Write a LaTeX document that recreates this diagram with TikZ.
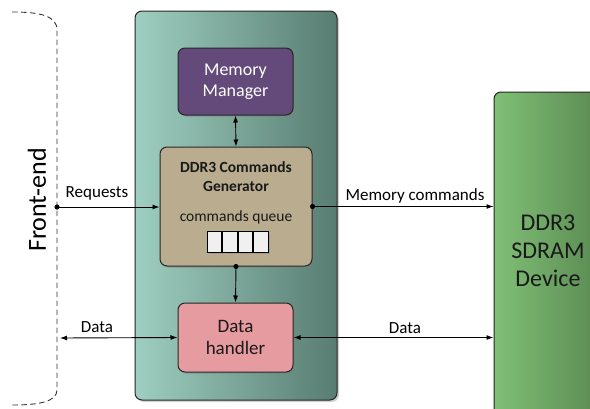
\documentclass[tikz,border=0pt]{standalone}
\usepackage{fontspec}
\setmainfont{Carlito}
\usetikzlibrary{shadows,arrows.meta,positioning}
\definecolor{tealL}{RGB}{158,207,192}
\definecolor{tealR}{RGB}{88,124,113}
\definecolor{mmfill}{RGB}{99,74,122}
\definecolor{genfill}{RGB}{186,173,143}
\definecolor{dhfill}{RGB}{230,155,160}
\definecolor{devL}{RGB}{128,192,118}
\definecolor{devR}{RGB}{88,135,80}
\definecolor{cellfill}{RGB}{240,240,240}
\begin{document}
\begin{tikzpicture}[x=1pt,y=-1pt,
  shad/.style={drop shadow={shadow xshift=2pt,shadow yshift=-2pt,opacity=0.35}},
  blk/.style={draw=black!85,line width=1pt,rounded corners=7pt,shad,inner sep=0pt,align=center},
  conn/.style={line width=0.9pt,-{Latex[length=7pt,width=5pt]}},
  dconn/.style={line width=0.9pt,{Latex[length=7pt,width=5pt]}-{Latex[length=7pt,width=5pt]}},
  lbl/.style={font=\fontsize{17}{20}\selectfont,inner sep=0pt},
  cell/.style={draw=black,line width=1pt,fill=cellfill,minimum width=14.5pt,minimum height=21pt,inner sep=0pt,shad}
]
\useasboundingbox (0,0) rectangle (590,408);
% front-end bracket
\draw[dash pattern=on 5.5pt off 3.5pt,line width=0.9pt,black!80] (12,12) .. controls (38,12) and (57,15) .. (57,30) -- (57,390) .. controls (57,402) and (38,405) .. (12,405);
\node[rotate=90,font=\fontsize{26}{30}\selectfont,inner sep=0pt] (fe) at (37,200) {Front-end};
\coordinate (fereq) at (57,207);
\coordinate (fedata) at (60,338);
% big controller box
\node[blk,left color=tealL,right color=tealR,minimum width=202pt,minimum height=389pt] (ctrl) at (236,205.5) {};
% device
\node[blk,left color=devL,right color=devR,minimum width=112pt,minimum height=326pt] (dev) at (550,255) {};
\node[font=\fontsize{24}{28}\selectfont,align=center,text=black!90,inner sep=0pt] (devtext) at (548,251) {DDR3\\SDRAM\\Device};
% memory manager
\node[blk,fill=mmfill,text=white,minimum width=115pt,minimum height=67pt,font=\fontsize{18}{21}\selectfont] (mm) at (235.5,81.5) {Memory\\Manager};
% generator
\node[blk,fill=genfill,minimum width=152pt,minimum height=119pt] (gen) at (236,206.5) {};
\node[font=\bfseries\fontsize{15.5}{19}\selectfont,align=center,inner sep=0pt,text=black!90] (gentitle) at (236,176.5) {DDR3 Commands\\Generator};
\node[font=\fontsize{15.5}{18}\selectfont,inner sep=0pt,text=black!90] (queue) at (236,217) {commands queue};
\node[cell] (c1) at (214.25,241.5) {};
\node[cell,anchor=west] (c2) at (c1.east) {};
\node[cell,anchor=west] (c3) at (c2.east) {};
\node[cell,anchor=west] (c4) at (c3.east) {};
% data handler
\node[blk,fill=dhfill,minimum width=115pt,minimum height=69pt,font=\fontsize{19}{22}\selectfont,text=black!90] (dh) at (235.5,337.5) {Data\\handler};
% connectors
\draw[dconn] (mm.south) -- (gen.north);
\fill (fereq) circle (2.6pt);
\draw[conn] (fereq) -- (fereq -| gen.west);
\node[lbl] (reqlbl) at (97,193) {Requests};
\fill (gen.east) circle (2.6pt);
\draw[conn] (gen.east) -- (gen.east -| dev.west);
\node[lbl] (mclbl) at (415,196) {Memory commands};
\fill (gen.south) circle (2.6pt);
\draw[conn] (gen.south) -- (dh.north);
\draw[dconn] (dh.west) -- (fedata);
\node[lbl] (dlbl1) at (97,327) {Data};
\draw[dconn] (dh.east) -- (dh.east -| dev.west);
\node[lbl] (dlbl2) at (405,328) {Data};
\end{tikzpicture}
\end{document}
